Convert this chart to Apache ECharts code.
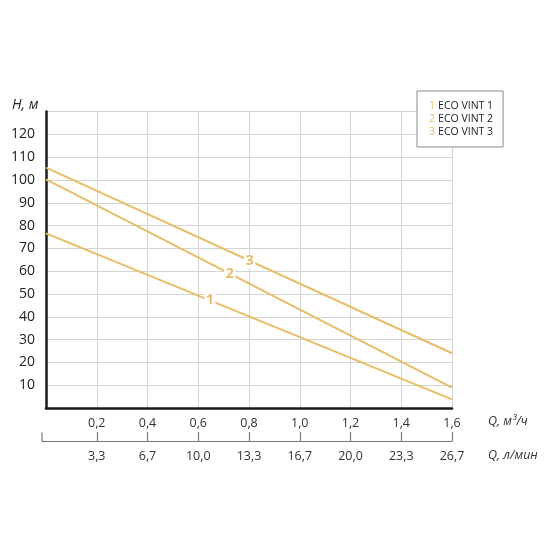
<!DOCTYPE html>
<html>
<head>
<meta charset="utf-8">
<script src="https://cdn.jsdelivr.net/npm/echarts@6/dist/echarts.min.js"></script>
<style>html,body{margin:0;padding:0;background:#fff}#c{width:550px;height:550px}</style>
</head>
<body>
<div id="c"></div>
<script>
// Data
const seriesNames = ['ECO VINT 1', 'ECO VINT 2', 'ECO VINT 3'];
const seriesTags = ['1', '2', '3'];
const flowQ = [0, 1.6];                 // m3/h
const headVint1 = [76.6, 3.8];          // m
const headVint2 = [100.3, 8.9];
const headVint3 = [105.4, 24.0];
const labelQ = [0.646, 0.724, 0.803];   // where the curve numbers sit
const lpmTicks = ['', '3,3', '6,7', '10,0', '13,3', '16,7', '20,0', '23,3', '26,7'];

const heads = [headVint1, headVint2, headVint3];
const gold = '#EABC63';
const FONT = 'Open Sans';

function interp(xs, ys, x) {
  return ys[0] + (ys[1] - ys[0]) * (x - xs[0]) / (xs[1] - xs[0]);
}

const series = heads.map((h, i) => ({
  name: seriesNames[i],
  type: 'line',
  xAxisIndex: 0,
  symbol: 'none',
  lineStyle: { color: gold, width: 2 },
  itemStyle: { color: gold },
  data: flowQ.map((q, k) => [q, h[k]]),
  markPoint: {
    symbol: 'rect',
    symbolSize: [11, 15],
    itemStyle: { color: '#fff' },
    label: { show: true, formatter: seriesTags[i], color: gold, fontSize: 14, fontWeight: 'bold', fontFamily: FONT },
    data: [{ coord: [labelQ[i], interp(flowQ, h, labelQ[i])] }]
  },
  z: 3
}));

const chart = echarts.init(document.getElementById('c'), null, { renderer: 'canvas' });
chart.setOption({
  animation: false,
  backgroundColor: '#fff',
  textStyle: { fontFamily: FONT },
  grid: { left: 46, top: 111.6, width: 406, height: 296.4, containLabel: false },
  legend: {
    orient: 'vertical',
    left: 417, top: 91,
    borderColor: '#8a8a8a', borderWidth: 1,
    backgroundColor: '#fff',
    padding: [9, 10, 9, 7],
    itemGap: 1,
    itemWidth: 0, itemHeight: 0,
    icon: 'rect',
    data: seriesNames,
    formatter: function (name) {
      const i = seriesNames.indexOf(name);
      return '{n|' + seriesTags[i] + '} {t|' + name + '}';
    },
    textStyle: {
      rich: {
        n: { color: gold, fontSize: 10.5, fontFamily: FONT },
        t: { color: '#222', fontSize: 10.5, fontFamily: FONT }
      }
    }
  },
  xAxis: [{
    type: 'value', min: 0, max: 1.6, interval: 0.2,
    axisLine: { show: true, onZero: false, lineStyle: { color: '#1a1a1a', width: 2.5 } },
    axisTick: { show: false },
    splitLine: { show: true, lineStyle: { color: '#d4d4d4', width: 1 } },
    axisLabel: {
      showMinLabel: false, margin: 9, color: '#333', fontSize: 12.5, fontFamily: FONT,
      formatter: v => v.toFixed(1).replace('.', ',')
    }
  }, {
    type: 'value', min: 0, max: 1.6, interval: 0.2, position: 'bottom', offset: 33,
    axisLine: { show: true, onZero: false, lineStyle: { color: '#777', width: 1.2 } },
    axisTick: { show: true, inside: true, length: 9, lineStyle: { color: '#777', width: 1.2 } },
    splitLine: { show: false },
    axisLabel: {
      showMinLabel: false, margin: 9, color: '#333', fontSize: 12.5, fontFamily: FONT,
      formatter: (v) => lpmTicks[Math.round(v / 0.2)]
    }
  }],
  yAxis: {
    type: 'value', min: 0, max: 130, interval: 10,
    axisLine: { show: true, onZero: false, lineStyle: { color: '#1a1a1a', width: 2.5 } },
    axisTick: { show: false },
    splitLine: { show: true, lineStyle: { color: '#d4d4d4', width: 1 } },
    axisLabel: { showMinLabel: false, showMaxLabel: false, margin: 11, color: '#222', fontSize: 14, fontFamily: FONT }
  },
  graphic: [
    { type: 'line', shape: { x1: 42, y1: 441.5, x2: 46, y2: 441.5 }, style: { stroke: '#777', lineWidth: 1.2 } },
    { type: 'line', shape: { x1: 42, y1: 432.5, x2: 42, y2: 441.5 }, style: { stroke: '#777', lineWidth: 1.2 } },
    { type: 'text', left: 12, top: 98, style: { text: 'H, м', fontSize: 14, fontStyle: 'italic', fill: '#222', fontFamily: FONT } },
    { type: 'text', left: 488, top: 415, style: { text: 'Q, м³/ч', fontSize: 12.5, fontStyle: 'italic', fill: '#333', fontFamily: FONT } },
    { type: 'text', left: 488, top: 449, style: { text: 'Q, л/мин', fontSize: 12.5, fontStyle: 'italic', fill: '#333', fontFamily: FONT } }
  ],
  series: series
});
</script>
</body>
</html>
